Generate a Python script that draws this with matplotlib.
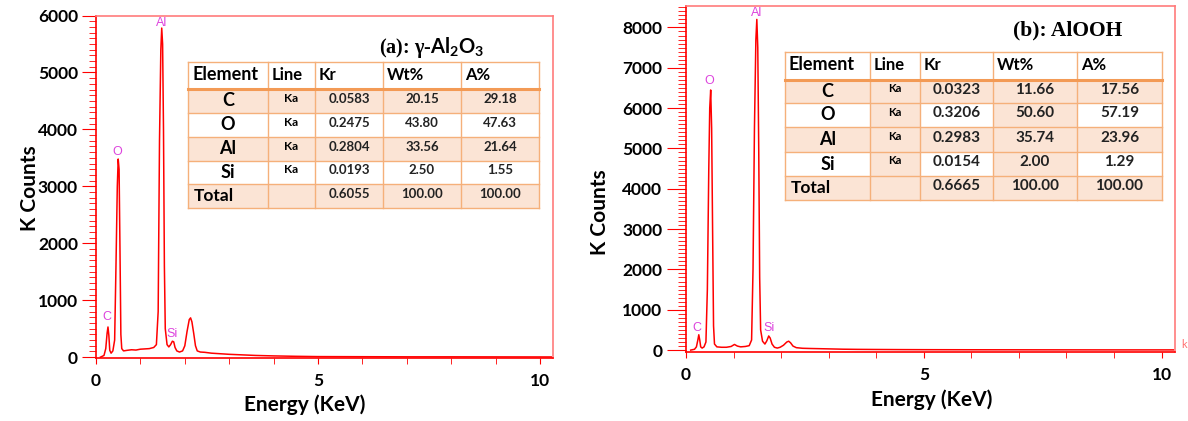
import numpy as np
import matplotlib.pyplot as plt
from matplotlib.patches import Rectangle
from matplotlib.ticker import MultipleLocator, FixedLocator

plt.rcParams['font.family'] = ['Lato', 'DejaVu Sans']
plt.rcParams['mathtext.fontset'] = 'custom'
plt.rcParams['mathtext.bf'] = 'Lato:bold'
plt.rcParams['mathtext.rm'] = 'Lato'

# EDX spectrum (a): gamma-Al2O3
e_a = [0.10, 0.18, 0.22, 0.25, 0.27, 0.29, 0.31, 0.34, 0.38, 0.42, 0.45, 0.48, 0.50,
       0.52, 0.54, 0.56, 0.58, 0.62, 0.70, 0.80, 0.90, 1.00, 1.10, 1.20, 1.30, 1.36,
       1.40, 1.43, 1.46, 1.48, 1.50, 1.52, 1.54, 1.56, 1.60, 1.64, 1.68, 1.72, 1.75,
       1.78, 1.82, 1.88, 1.95, 2.00, 2.05, 2.10, 2.13, 2.16, 2.20, 2.24, 2.28, 2.35,
       2.45, 2.60, 2.80, 3.00, 3.30, 3.60, 4.00, 4.50, 5.00, 6.00, 7.00, 8.00, 9.00,
       10.00, 10.25]
c_a = [0, 30, 150, 420, 530, 380, 120, 70, 110, 300, 1600, 3000, 3480,
       3300, 1900, 400, 150, 110, 120, 130, 125, 140, 145, 150, 170, 220,
       800, 3800, 5400, 5780, 5500, 4000, 1600, 500, 220, 180, 220, 280, 270,
       170, 110, 90, 110, 200, 450, 660, 690, 620, 420, 200, 110, 90,
       85, 70, 60, 50, 40, 30, 22, 15, 10, 8, 6, 6, 5,
       4, 4]

# EDX spectrum (b): AlOOH
e_b = [0.10, 0.18, 0.22, 0.25, 0.27, 0.29, 0.31, 0.34, 0.38, 0.42, 0.45, 0.48, 0.50,
       0.52, 0.54, 0.56, 0.58, 0.60, 0.65, 0.75, 0.85, 0.95, 1.02, 1.08, 1.15, 1.25,
       1.33, 1.38, 1.41, 1.44, 1.47, 1.49, 1.51, 1.53, 1.55, 1.57, 1.61, 1.66, 1.70,
       1.74, 1.77, 1.81, 1.86, 1.92, 1.98, 2.05, 2.12, 2.16, 2.20, 2.25, 2.32, 2.45,
       2.60, 2.80, 3.00, 3.30, 3.60, 4.00, 4.50, 5.00, 6.00, 7.00, 8.00, 9.00, 10.00,
       10.25]
c_b = [0, 20, 80, 250, 380, 250, 80, 50, 80, 200, 1500, 4500, 6000,
       6450, 5500, 3000, 600, 150, 80, 70, 70, 90, 140, 100, 80, 90,
       110, 250, 2000, 5500, 7700, 8200, 7500, 5000, 1800, 500, 220, 150, 230,
       350, 300, 150, 70, 50, 70, 120, 200, 220, 180, 100, 60, 45,
       40, 35, 30, 22, 18, 15, 12, 10, 8, 7, 6, 5, 5,
       5]

# peak labels: element, energy, label height
lab_a = [("C", 0.24, 700), ("O", 0.48, 3600), ("Al", 1.47, 5870), ("Si", 1.72, 400)]
lab_b = [("C", 0.23, 560), ("O", 0.50, 6680), ("Al", 1.49, 8370), ("Si", 1.75, 540)]

# quantification tables
elements = ["C", "O", "Al", "Si", "Total"]
lines = ["Ka", "Ka", "Ka", "Ka", ""]
kr_a = ["0.0583", "0.2475", "0.2804", "0.0193", "0.6055"]
wt_a = ["20.15", "43.80", "33.56", "2.50", "100.00"]
at_a = ["29.18", "47.63", "21.64", "1.55", "100.00"]
kr_b = ["0.0323", "0.3206", "0.2983", "0.0154", "0.6665"]
wt_b = ["11.66", "50.60", "35.74", "2.00", "100.00"]
at_b = ["17.56", "57.19", "23.96", "1.29", "100.00"]
header = ["Element", "Line", "Kr", "Wt%", "A%"]

fig = plt.figure(figsize=(11.88, 4.21), dpi=100)
ax1 = fig.add_axes([0.0808, 0.1496, 0.3843, 0.8135])
ax2 = fig.add_axes([0.5774, 0.1646, 0.4116, 0.8219])
ov = fig.add_axes([0, 0, 1, 1], zorder=5)
ov.set_xlim(0, 1188)
ov.set_ylim(421, 0)
ov.axis("off")
ov.patch.set_alpha(0)


def style_axis(ax, ymax, ymin, major_len, minor_len):
    ax.set_xlim(0, 10.28)
    ax.set_ylim(ymin, ymax)
    ax.xaxis.set_major_locator(FixedLocator([0, 5, 10]))
    ax.xaxis.set_minor_locator(MultipleLocator(1))
    ax.yaxis.set_major_locator(MultipleLocator(1000))
    ax.yaxis.set_minor_locator(MultipleLocator(100))
    ax.tick_params(axis="x", which="both", direction="out", length=4, color="red",
                   labelsize=12.5, pad=7)
    ax.tick_params(axis="y", which="major", direction="out", length=major_len,
                   color="red", labelsize=12.5, pad=3)
    ax.tick_params(axis="y", which="minor", direction="out", length=minor_len,
                   color="red")
    for lab in ax.get_xticklabels() + ax.get_yticklabels():
        lab.set_fontweight("bold")
    ax.spines["left"].set_color("red")
    ax.spines["bottom"].set_color("red")
    ax.spines["top"].set_color("#ff7b7b")
    ax.spines["right"].set_color("#ff7b7b")
    for s in ax.spines.values():
        s.set_linewidth(1.2)


ax1.plot(e_a, c_a, color="red", lw=1.1)
ax2.plot(e_b, c_b, color="red", lw=1.1)
style_axis(ax1, 6000, -15, 10, 5)
style_axis(ax2, 8540, -40, 14, 6)

for el, x, y in lab_a:
    ax1.text(x, y, el, color="#dd44dd", fontsize=9, family="Liberation Sans",
             ha="center", va="center")
for el, x, y in lab_b:
    ax2.text(x, y, el, color="#dd44dd", fontsize=9, family="Liberation Sans",
             ha="center", va="center")

# axis labels
ov.text(30, 188, "K Counts", rotation=90, fontsize=15, fontweight="bold",
        ha="center", va="center")
ov.text(305, 405, "Energy (KeV)", fontsize=15, fontweight="bold",
        ha="center", va="center")
ov.text(600, 212, "K Counts", rotation=90, fontsize=15, fontweight="bold",
        ha="center", va="center")
ov.text(932, 400, "Energy (KeV)", fontsize=15, fontweight="bold",
        ha="center", va="center")
ov.text(1181, 345, "k", fontsize=8, color="#ff7070", ha="left", va="center")

# titles
ov.text(379, 47, "(a): γ-$\\mathbf{Al_2O_3}$", fontsize=14.5, fontweight="bold",
        family="Liberation Serif", ha="left", va="center")
ov.text(1013, 30, "(b): AlOOH", fontsize=15.5, fontweight="bold",
        family="Liberation Serif", ha="left", va="center")

peach = "#fbe4d5"
orange = "#f5b07a"


def draw_table(cols, rows, kr, wt, at, shade_cols, num_size, ka_size):
    # background fills
    for i in range(5):
        y0, y1 = rows[i + 1], rows[i + 2]
        for j in range(5):
            x0, x1 = cols[j], cols[j + 1]
            fill = peach if (i % 2 == 0 or j in shade_cols) else "white"
            ov.add_patch(Rectangle((x0, y0), x1 - x0, y1 - y0, facecolor=fill,
                                   edgecolor="none"))
    ov.add_patch(Rectangle((cols[0], rows[0]), cols[-1] - cols[0], rows[1] - rows[0],
                           facecolor="white", edgecolor="none"))
    for x in cols:
        ov.plot([x, x], [rows[0], rows[-1]], color=orange, lw=1)
    for k, y in enumerate(rows):
        ov.plot([cols[0], cols[-1]], [y, y], color=orange if k != 1 else "#f39a55",
                lw=1 if k != 1 else 2.2)
    # header
    hy = (rows[0] + rows[1]) / 2 - 1
    for j, h in enumerate(header):
        ov.text(cols[j] + 4, hy, h, fontsize=13 if j == 0 else 12,
                fontweight="bold", ha="left", va="center")
    for i in range(5):
        yc = (rows[i + 1] + rows[i + 2]) / 2
        if elements[i] == "Total":
            ov.text(cols[0] + 6, yc, "Total", fontsize=12.5, fontweight="bold",
                    ha="left", va="center")
        else:
            ov.text((cols[0] + cols[1]) / 2, yc, elements[i], fontsize=13,
                    fontweight="bold", ha="center", va="center")
        ov.text((cols[1] + cols[2]) / 2, yc - 3, lines[i], fontsize=ka_size,
                fontweight="bold", ha="center", va="center")
        for j, v in zip([2, 3, 4], [kr[i], wt[i], at[i]]):
            ov.text((cols[j] + cols[j + 1]) / 2, yc - 2, v, fontsize=num_size,
                    fontweight="bold", ha="center", va="center", color="#222222")


draw_table([188, 268, 315, 383, 461, 539], [62, 89, 113, 137, 161, 184, 208],
           kr_a, wt_a, at_a, [], 9.5, 8.5)
draw_table([785, 870, 920, 993, 1077, 1162], [52, 80, 103, 127, 152, 176, 200],
           kr_b, wt_b, at_b, [1, 3], 11, 8)

fig.savefig("out.png", dpi=100)
